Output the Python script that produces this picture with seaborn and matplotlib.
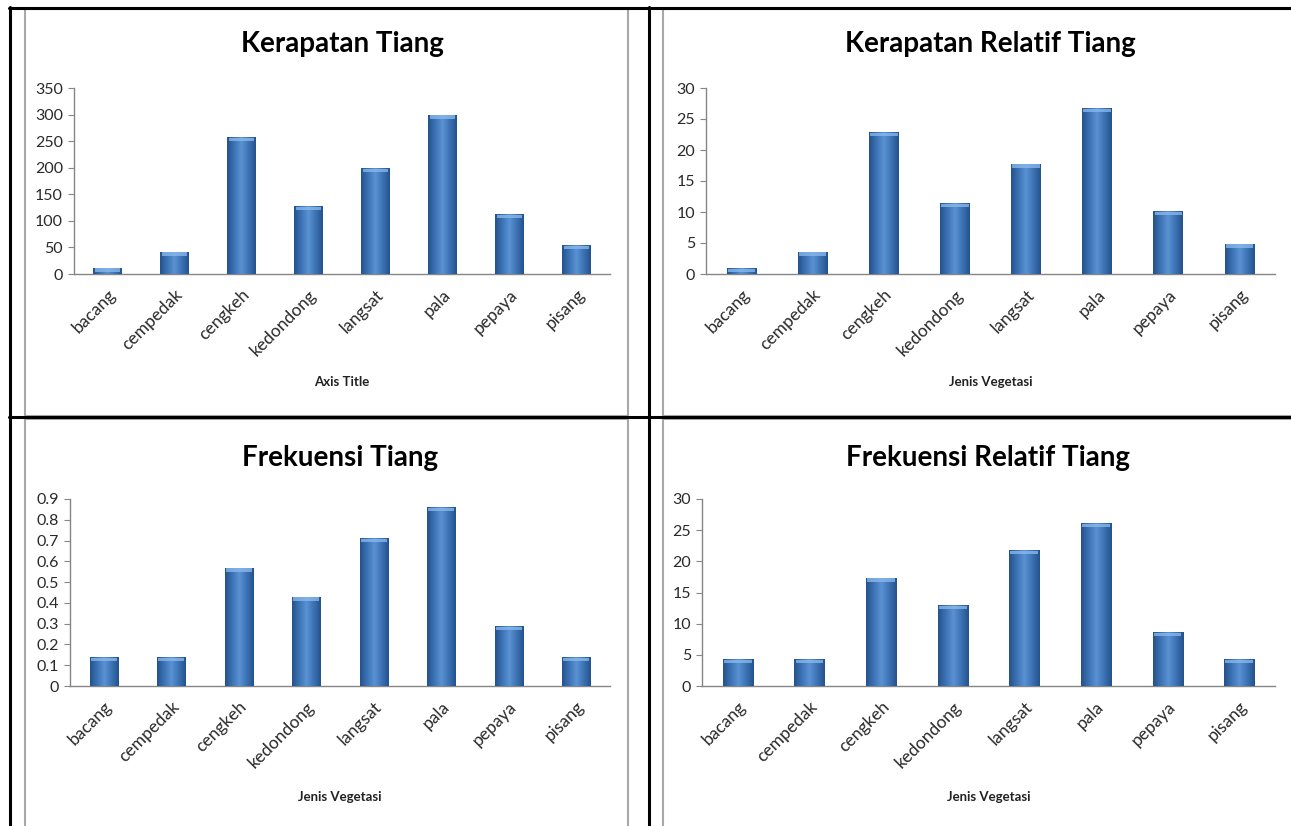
import numpy as np
import pandas as pd
import seaborn as sns
import matplotlib.pyplot as plt
from matplotlib.colors import LinearSegmentedColormap
from matplotlib.patches import Rectangle
from matplotlib.lines import Line2D
from matplotlib.transforms import ScaledTranslation

species = ['bacang', 'cempedak', 'cengkeh', 'kedondong', 'langsat', 'pala', 'pepaya', 'pisang']

kerapatan = [12, 42, 257, 128, 200, 300, 113, 55]
kerapatan_relatif = [1.0, 3.6, 22.9, 11.4, 17.8, 26.7, 10.1, 4.9]
frekuensi = [0.14, 0.14, 0.57, 0.43, 0.71, 0.86, 0.29, 0.14]
frekuensi_relatif = [4.35, 4.35, 17.39, 13.04, 21.74, 26.09, 8.70, 4.35]

ticks_kerapatan = [0, 50, 100, 150, 200, 250, 300, 350]
ticks_relatif = [0, 5, 10, 15, 20, 25, 30]
ticks_frekuensi = [0, 0.1, 0.2, 0.3, 0.4, 0.5, 0.6, 0.7, 0.8, 0.9]
labels_frekuensi = ['0', '0.1', '0.2', '0.3', '0.4', '0.5', '0.6', '0.7', '0.8', '0.9']

sns.set_theme(style='white')
plt.rcParams['font.family'] = ['Lato', 'DejaVu Sans']

W, H = 1291, 826
fig = plt.figure(figsize=(W / 100, H / 100), dpi=100)
fig.patch.set_facecolor('white')

bar_cmap = LinearSegmentedColormap.from_list(
    'excel', ['#24528c', '#3d73b4', '#5a92d4', '#3d73b4', '#24528c'])


def px_axes(l, r, t, b):
    return fig.add_axes([l / W, 1 - b / H, (r - l) / W, (b - t) / H])


def draw_panel(box, values, yticks, ylabels, title, xlabel, title_y, xlabel_y):
    l, r, t, b = box
    ax = px_axes(l, r, t, b)
    df = pd.DataFrame({'jenis': species, 'nilai': values})
    sns.barplot(data=df, x='jenis', y='nilai', color='#3d73b4', width=0.42,
                ax=ax, saturation=1, edgecolor='none')
    ymax = yticks[-1]
    # excel style shading on each bar
    grad = np.linspace(0, 1, 128).reshape(1, -1)
    hl = ymax * 4.0 / (b - t)
    for p in list(ax.patches):
        x0, w, h = p.get_x(), p.get_width(), p.get_height()
        im = ax.imshow(grad, cmap=bar_cmap, extent=(x0, x0 + w, 0, h),
                       aspect='auto', zorder=3, interpolation='bilinear')
        im.set_clip_path(p)
        top = Rectangle((x0 + w * 0.04, h - hl), w * 0.92, hl * 0.8,
                        facecolor='#8cbcf0', edgecolor='none', alpha=0.75, zorder=4)
        ax.add_patch(top)
    ax.set_xlim(-0.5, len(species) - 0.5)
    ax.set_ylim(0, ymax)
    ax.set_yticks(yticks)
    ax.set_yticklabels(ylabels, fontsize=11.5, color='#2a2a2a')
    ax.set_xticks(range(len(species)))
    ax.set_xticklabels(species, rotation=45, ha='right', rotation_mode='anchor',
                       fontsize=12.5, color='#2a2a2a')
    shift = ScaledTranslation(6 / 72, 0, fig.dpi_scale_trans)
    for lab in ax.get_xticklabels():
        lab.set_transform(lab.get_transform() + shift)
    ax.tick_params(axis='y', which='major', left=True, length=4, width=0.8,
                   color='#868686', pad=4)
    ax.tick_params(axis='x', bottom=False, pad=3)
    for s in ['top', 'right']:
        ax.spines[s].set_visible(False)
    for s in ['left', 'bottom']:
        ax.spines[s].set_color('#868686')
        ax.spines[s].set_linewidth(1.0)
    ax.set_xlabel('')
    ax.set_ylabel('')
    ax.patch.set_alpha(0)
    cx = (l + r) / 2 / W
    fig.text(cx, 1 - title_y / H, title, ha='center', va='center',
             fontsize=20, fontweight='bold', color='black')
    fig.text(cx, 1 - xlabel_y / H, xlabel, ha='center', va='center',
             fontsize=9.5, fontweight='bold', color='#222222')
    return ax


# grey chart frames
for (l, r, t, b) in [(25, 628, 9, 416), (663, 1295, 9, 416),
                     (25, 628, 419, 830), (663, 1295, 419, 830)]:
    fig.add_artist(Rectangle((l / W, 1 - b / H), (r - l) / W, (b - t) / H,
                             transform=fig.transFigure, facecolor='white',
                             edgecolor='#a8a8a8', linewidth=1.5, zorder=-5))

draw_panel((74, 610, 88, 274), kerapatan, ticks_kerapatan,
           [str(v) for v in ticks_kerapatan], 'Kerapatan Tiang', 'Axis Title', 44, 382)
draw_panel((706, 1275, 88, 274), kerapatan_relatif, ticks_relatif,
           [str(v) for v in ticks_relatif], 'Kerapatan Relatif Tiang', 'Jenis Vegetasi', 44, 382)
draw_panel((70, 610, 499, 686), frekuensi, ticks_frekuensi,
           labels_frekuensi, 'Frekuensi Tiang', 'Jenis Vegetasi', 458, 797)
draw_panel((702, 1275, 499, 686), frekuensi_relatif, ticks_relatif,
           [str(v) for v in ticks_relatif], 'Frekuensi Relatif Tiang', 'Jenis Vegetasi', 458, 797)

# black table borders
def hline(y, x0, x1):
    fig.add_artist(Line2D([x0 / W, x1 / W], [1 - y / H, 1 - y / H],
                          transform=fig.transFigure, color='black', linewidth=2.2, zorder=10))


def vline(x, y0, y1):
    fig.add_artist(Line2D([x / W, x / W], [1 - y0 / H, 1 - y1 / H],
                          transform=fig.transFigure, color='black', linewidth=2.2, zorder=10))


hline(8, 9, W)
hline(417, 9, W)
vline(10, 7, H)
vline(649, 7, H)

fig.savefig('out.png', dpi=100, facecolor='white')
